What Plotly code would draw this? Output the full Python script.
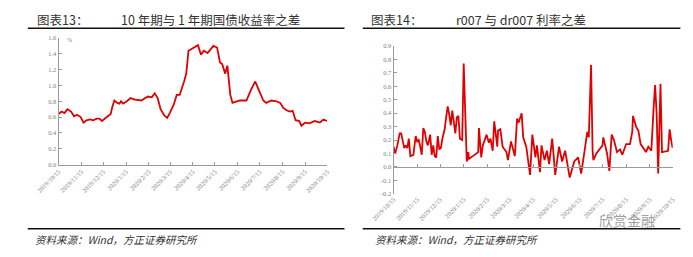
import plotly.graph_objects as go

# ---------------- data ----------------
tick_dates = ["2019-10-15", "2019-11-15", "2019-12-15", "2020-01-15", "2020-02-15", "2020-03-15",
              "2020-04-15", "2020-05-15", "2020-06-15", "2020-07-15", "2020-08-15", "2020-09-15", "2020-10-15"]
tick_labels = ["2019/10/15", "2019/11/15", "2019/12/15", "2020/1/15", "2020/2/15", "2020/3/15",
               "2020/4/15", "2020/5/15", "2020/6/15", "2020/7/15", "2020/8/15", "2020/9/15", "2020/10/15"]

# chart 13: 10y - 1y treasury yield spread (%)
spread_dates = ["2019-10-15", "2019-10-19", "2019-10-23", "2019-10-27", "2019-11-01", "2019-11-05",
                "2019-11-09", "2019-11-14", "2019-11-18", "2019-11-22", "2019-11-27", "2019-12-01",
                "2019-12-06", "2019-12-10", "2019-12-13", "2019-12-17", "2019-12-21", "2019-12-25",
                "2019-12-27", "2019-12-30", "2020-01-03", "2020-01-06", "2020-01-08", "2020-01-11",
                "2020-01-16", "2020-01-21", "2020-01-27", "2020-02-01", "2020-02-05", "2020-02-10",
                "2020-02-14", "2020-02-19", "2020-02-23", "2020-02-27", "2020-03-02", "2020-03-07",
                "2020-03-11", "2020-03-15", "2020-03-20", "2020-03-24", "2020-03-28", "2020-04-03",
                "2020-04-06", "2020-04-09", "2020-04-13", "2020-04-17", "2020-04-22", "2020-04-26",
                "2020-04-30", "2020-05-05", "2020-05-09", "2020-05-13", "2020-05-18", "2020-05-22",
                "2020-05-25", "2020-05-29", "2020-06-01", "2020-06-05", "2020-06-08", "2020-06-14",
                "2020-06-18", "2020-06-22", "2020-06-27", "2020-07-03", "2020-07-09", "2020-07-13",
                "2020-07-17", "2020-07-20", "2020-07-24", "2020-07-31", "2020-08-07", "2020-08-12",
                "2020-08-16", "2020-08-20", "2020-08-25", "2020-08-29", "2020-09-02", "2020-09-07",
                "2020-09-10", "2020-09-15", "2020-09-21", "2020-09-28", "2020-10-05", "2020-10-10",
                "2020-10-15"]
spread_values = [0.64, 0.67, 0.65, 0.70, 0.67, 0.61,
                 0.63, 0.60, 0.53, 0.56, 0.57, 0.56,
                 0.58, 0.58, 0.55, 0.58, 0.62, 0.64,
                 0.72, 0.81, 0.78, 0.77, 0.80, 0.77,
                 0.80, 0.84, 0.82, 0.81, 0.81, 0.84,
                 0.86, 0.85, 0.90, 0.84, 0.70, 0.62,
                 0.59, 0.66, 0.76, 0.88, 0.88, 1.05,
                 1.15, 1.44, 1.46, 1.48, 1.51, 1.39,
                 1.44, 1.41, 1.45, 1.50, 1.48, 1.29,
                 1.27, 1.15, 1.25, 0.88, 0.78, 0.80,
                 0.81, 0.81, 0.81, 0.94, 1.05, 0.96,
                 0.86, 0.81, 0.78, 0.81, 0.80, 0.78,
                 0.72, 0.69, 0.67, 0.68, 0.56, 0.55,
                 0.49, 0.53, 0.52, 0.55, 0.53, 0.57,
                 0.55]

# chart 14: r007 - dr007
rate_dates = ["2019-10-15", "2019-10-17", "2019-10-20", "2019-10-23", "2019-10-25", "2019-10-27",
              "2019-10-29", "2019-10-31", "2019-11-02", "2019-11-04", "2019-11-06", "2019-11-10",
              "2019-11-13", "2019-11-15", "2019-11-17", "2019-11-19", "2019-11-21", "2019-11-23",
              "2019-11-25", "2019-11-27", "2019-11-29", "2019-12-02", "2019-12-04", "2019-12-06",
              "2019-12-08", "2019-12-10", "2019-12-12", "2019-12-14", "2019-12-16", "2019-12-18",
              "2019-12-21", "2019-12-23", "2019-12-25", "2019-12-27", "2019-12-29", "2019-12-31",
              "2020-01-02", "2020-01-04", "2020-01-06", "2020-01-08", "2020-01-10", "2020-01-13",
              "2020-01-15", "2020-01-19", "2020-01-21", "2020-01-22", "2020-01-27", "2020-02-03",
              "2020-02-04", "2020-02-07", "2020-02-09", "2020-02-14", "2020-02-17", "2020-02-19",
              "2020-02-22", "2020-02-24", "2020-02-28", "2020-02-29", "2020-03-03", "2020-03-06",
              "2020-03-11", "2020-03-13", "2020-03-17", "2020-03-19", "2020-03-22", "2020-03-25",
              "2020-03-27", "2020-03-31", "2020-04-02", "2020-04-06", "2020-04-09", "2020-04-11",
              "2020-04-14", "2020-04-18", "2020-04-20", "2020-04-24", "2020-04-26", "2020-04-30",
              "2020-05-03", "2020-05-06", "2020-05-10", "2020-05-14", "2020-05-19", "2020-05-23",
              "2020-05-27", "2020-05-29", "2020-06-02", "2020-06-06", "2020-06-08", "2020-06-13",
              "2020-06-17", "2020-06-21", "2020-06-25", "2020-06-27", "2020-06-30", "2020-07-02",
              "2020-07-03", "2020-07-07", "2020-07-11", "2020-07-15", "2020-07-16", "2020-07-21",
              "2020-07-24", "2020-07-27", "2020-07-30", "2020-08-03", "2020-08-07", "2020-08-10",
              "2020-08-15", "2020-08-20", "2020-08-23", "2020-08-24", "2020-08-28", "2020-08-31",
              "2020-09-03", "2020-09-07", "2020-09-10", "2020-09-13", "2020-09-17", "2020-09-20",
              "2020-09-22", "2020-09-24", "2020-09-26", "2020-09-29", "2020-10-01", "2020-10-09",
              "2020-10-11", "2020-10-13", "2020-10-15"]
rate_values = [0.15, 0.10, 0.16, 0.25, 0.25, 0.20,
               0.14, 0.16, 0.14, 0.21, 0.08, 0.09,
               0.23, 0.19, 0.20, 0.15, 0.09, 0.29,
               0.26, 0.19, 0.16, 0.24, 0.09, 0.16,
               0.08, 0.07, 0.23, 0.13, 0.14, 0.21,
               0.28, 0.37, 0.45, 0.39, 0.31, 0.42,
               0.32, 0.25, 0.37, 0.38, 0.21, 0.20,
               0.77, 0.04, 0.11, 0.06, 0.08, 0.11,
               0.29, 0.07, 0.16, 0.24, 0.18, 0.21,
               0.12, 0.34, 0.15, 0.27, 0.28, 0.15,
               0.11, 0.05, 0.19, 0.14, 0.08, 0.36,
               0.33, 0.40, 0.22, 0.15, 0.03, -0.06,
               0.24, 0.07, 0.16, -0.04, 0.16, 0.05,
               0.12, 0.02, 0.21, -0.06, 0.15, 0.04,
               0.12, 0.04, -0.08, 0.00, 0.04, 0.07,
               -0.05, 0.10, 0.26, 0.22, 0.76, 0.12,
               0.05, 0.10, 0.13, 0.16, 0.22, 0.10,
               -0.03, 0.24, 0.20, 0.11, 0.13, 0.09,
               0.17, 0.17, 0.26, 0.38, 0.30, 0.27,
               0.17, 0.13, 0.11, 0.15, 0.12, 0.44,
               0.61, 0.39, -0.05, 0.62, 0.11, 0.12,
               0.28, 0.20, 0.14]

left_yticks = [0.0, 0.2, 0.4, 0.6, 0.8, 1.0, 1.2, 1.4, 1.6]
right_yticks = [-0.2, -0.1, 0.0, 0.1, 0.2, 0.3, 0.4, 0.5, 0.6, 0.7, 0.8, 0.9]

# ---------------- layout helpers ----------------
W, H = 693, 257
def fx(p):
    return p / W
def fy(p):
    return 1 - p / H

RED = "#e00000"
AX = "#9a9a9a"
TICKFONT = dict(family="Liberation Serif", size=6.5, color="#808080")

fig = go.Figure()
fig.add_trace(go.Scatter(x=spread_dates, y=spread_values, mode="lines",
                         line=dict(color=RED, width=1.8), xaxis="x", yaxis="y", showlegend=False))
fig.add_trace(go.Scatter(x=rate_dates, y=rate_values, mode="lines",
                         line=dict(color=RED, width=1.8), xaxis="x2", yaxis="y2", showlegend=False))

r_ydom = [fy(195), fy(43.3)]
zero_pos = r_ydom[0] + (0 - (-0.2)) / (0.9 - (-0.2)) * (r_ydom[1] - r_ydom[0])

fig.update_layout(
    width=W, height=H, margin=dict(l=0, r=0, t=0, b=0),
    paper_bgcolor="white", plot_bgcolor="white",
    xaxis=dict(domain=[fx(37), fx(316)], range=["2019-10-15", "2020-10-15"], anchor="y",
               tickvals=tick_dates, ticktext=tick_labels, tickangle=-45, tickfont=TICKFONT,
               showgrid=False, zeroline=False, showline=True, linecolor=AX, linewidth=1,
               ticks="inside", ticklen=3, tickcolor=AX),
    yaxis=dict(domain=[fy(165), fy(35)], range=[0, 1.6], anchor="x",
               tickvals=left_yticks, ticktext=[f"{v:.1f}" for v in left_yticks], tickfont=TICKFONT,
               showgrid=False, zeroline=False, showline=True, linecolor=AX, linewidth=1,
               ticks="inside", ticklen=3, tickcolor=AX),
    xaxis2=dict(domain=[fx(385), fx(675)], range=["2019-10-15", "2020-10-15"], anchor="y2",
                tickvals=tick_dates, ticktext=tick_labels, tickangle=-45, tickfont=TICKFONT,
                showgrid=False, zeroline=False, showline=False, ticks=""),
    xaxis3=dict(matches="x2", overlaying="x2", anchor="free", position=zero_pos,
                tickvals=tick_dates, showticklabels=False, showgrid=False, zeroline=False,
                showline=True, linecolor=AX, linewidth=1, ticks="inside", ticklen=3, tickcolor=AX),
    yaxis2=dict(domain=r_ydom, range=[-0.2, 0.9], anchor="x2",
                tickvals=right_yticks, ticktext=[f"{v:.1f}" for v in right_yticks], tickfont=TICKFONT,
                showgrid=False, zeroline=False, showline=True, linecolor=AX, linewidth=1,
                ticks="inside", ticklen=3, tickcolor=AX),
)

# invisible trace to make sure overlay axis is drawn
fig.add_trace(go.Scatter(x=rate_dates[:1], y=rate_values[:1], mode="lines", xaxis="x3", yaxis="y2",
                         line=dict(color="rgba(0,0,0,0)"), showlegend=False, hoverinfo="skip"))

TITLE = dict(family="Noto Sans CJK SC", size=12.5, color="#333333")
SRC = dict(family="Noto Sans CJK SC", size=10.5, color="#333333", style="italic")
ann = [
    dict(text="图表13：", x=fx(12), y=fy(16), xanchor="left", yanchor="middle", font=TITLE),
    dict(text="10 年期与 1 年期国债收益率之差", x=fx(100), y=fy(16), xanchor="left", yanchor="middle", font=TITLE),
    dict(text="图表14：", x=fx(360), y=fy(16), xanchor="left", yanchor="middle", font=TITLE),
    dict(text="r007 与 dr007 利率之差", x=fx(448), y=fy(16), xanchor="left", yanchor="middle", font=TITLE),
    dict(text="%", x=fx(48), y=fy(37), xanchor="center", yanchor="middle",
         font=dict(family="Liberation Serif", size=6, color="#808080")),
    dict(text="资料来源：Wind，方正证券研究所", x=fx(10), y=fy(242), xanchor="left", yanchor="middle", font=SRC),
    dict(text="资料来源：Wind，方正证券研究所", x=fx(364), y=fy(242), xanchor="left", yanchor="middle", font=SRC),
    dict(text="欣赏金融", x=fx(628), y=fy(222), xanchor="center", yanchor="middle",
         font=dict(family="Noto Sans CJK SC", size=14, color="#a0a0a0")),
]
for a in ann:
    a.update(xref="paper", yref="paper", showarrow=False)
fig.update_layout(annotations=ann)

shapes = []
for x0, x1 in [(5, 334), (353, 683)]:
    shapes.append(dict(type="line", xref="paper", yref="paper", x0=fx(x0), x1=fx(x1), y0=fy(25), y1=fy(25),
                       line=dict(color="#111111", width=1.6)))
    shapes.append(dict(type="line", xref="paper", yref="paper", x0=fx(x0), x1=fx(x1), y0=fy(231), y1=fy(231),
                       line=dict(color="#111111", width=1.6)))
fig.update_layout(shapes=shapes)

fig.write_html("out.html")
